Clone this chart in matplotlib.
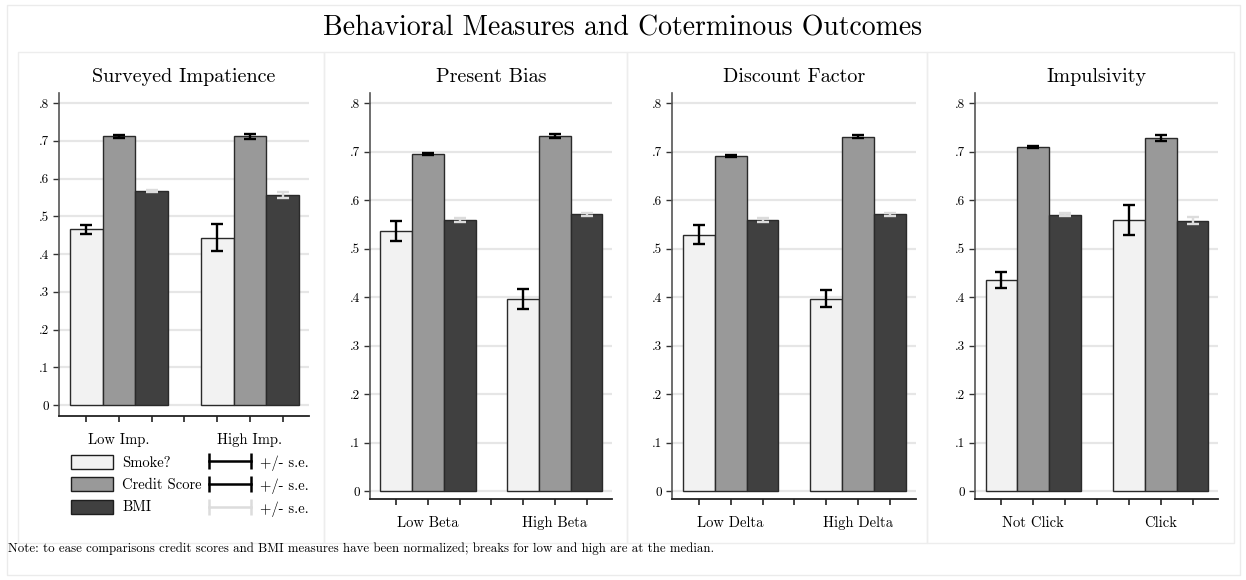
import matplotlib.pyplot as plt
from matplotlib.patches import Patch, Rectangle
from matplotlib.lines import Line2D
from matplotlib.legend_handler import HandlerLine2D

plt.rcParams['font.family'] = 'cmr10'
plt.rcParams['axes.unicode_minus'] = False

# Data: means and standard errors per panel
panel_titles = ['Surveyed Impatience', 'Present Bias', 'Discount Factor', 'Impulsivity']
group_labels = [['Low Imp.', 'High Imp.'], ['Low Beta', 'High Beta'],
                ['Low Delta', 'High Delta'], ['Not Click', 'Click']]
series_names = ['Smoke?', 'Credit Score', 'BMI']

smoke_mean = [[0.466, 0.443], [0.537, 0.396], [0.529, 0.397], [0.435, 0.559]]
smoke_se = [[0.012, 0.036], [0.020, 0.021], [0.020, 0.018], [0.0165, 0.031]]
credit_mean = [[0.712, 0.712], [0.695, 0.732], [0.692, 0.731], [0.710, 0.728]]
credit_se = [[0.003, 0.0075], [0.0025, 0.004], [0.002, 0.0037], [0.002, 0.006]]
bmi_mean = [[0.567, 0.557], [0.560, 0.571], [0.560, 0.571], [0.570, 0.558]]
bmi_se = [[0.0035, 0.0075], [0.004, 0.0035], [0.004, 0.0037], [0.0035, 0.0065]]

yticks = [0, .1, .2, .3, .4, .5, .6, .7, .8]
ytick_labels = ['0', '.1', '.2', '.3', '.4', '.5', '.6', '.7', '.8']

bar_colors = ['#f2f2f2', '#999999', '#404040']
err_colors = ['black', 'black', '#dcdcdc']

W, H = 1246, 580
fig = plt.figure(figsize=(W / 100, H / 100), dpi=100)


def px_box(l, r, t, b):
    return [l / W, 1 - b / H, (r - l) / W, (b - t) / H]


# outer frame and panel frames
fig.add_artist(Rectangle((7 / W, 1 - 575 / H), 1233 / W, 570 / H, transform=fig.transFigure,
                         facecolor='none', edgecolor='#ebebeb', lw=1))
panel_edges = [18, 324, 627, 927, 1234]
for i in range(4):
    fig.add_artist(Rectangle((panel_edges[i] / W, 1 - 543 / H), (panel_edges[i + 1] - panel_edges[i]) / W,
                             491 / H, transform=fig.transFigure, facecolor='none',
                             edgecolor='#ededed', lw=1))

axes_px = [(59, 309, 93, 416), (370, 612, 93, 499), (672, 916, 93, 499), (975, 1218, 93, 499)]
ylims = [(-0.029, 0.827), (-0.0157, 0.821), (-0.0157, 0.821), (-0.0157, 0.821)]

positions = [[1, 5], [2, 6], [3, 7]]
axes = []
for p in range(4):
    ax = fig.add_axes(px_box(*axes_px[p]))
    axes.append(ax)
    means = [smoke_mean[p], credit_mean[p], bmi_mean[p]]
    ses = [smoke_se[p], credit_se[p], bmi_se[p]]
    for s in range(3):
        ax.bar(positions[s], means[s], width=1.0, color=bar_colors[s],
               edgecolor='#2a2a2a', linewidth=1.0, zorder=3)
        ax.errorbar(positions[s], means[s], yerr=ses[s], fmt='none', ecolor=err_colors[s],
                    elinewidth=1.7, capsize=4.5, capthick=1.7, zorder=4)
    ax.set_xlim(0.17, 7.8)
    ax.set_ylim(*ylims[p])
    ax.set_yticks(yticks)
    ax.set_yticklabels(ytick_labels)
    ax.set_xticks(range(1, 8))
    ax.set_xticklabels(['', group_labels[p][0], '', '', '', group_labels[p][1], ''])
    ax.tick_params(axis='y', direction='out', length=4, width=1, color='#333333',
                   labelsize=9.5, pad=3)
    ax.tick_params(axis='x', direction='out', length=4.5, width=1.2, color='#222222',
                   labelsize=10.5, pad=8)
    ax.yaxis.grid(True, color='#e6e6e6', lw=1.6)
    ax.set_axisbelow(True)
    for side in ['top', 'right']:
        ax.spines[side].set_visible(False)
    ax.spines['left'].set_color('#555555')
    ax.spines['left'].set_linewidth(1.2)
    ax.spines['bottom'].set_color('#222222')
    ax.spines['bottom'].set_linewidth(1.3)
    ax.set_title(panel_titles[p], fontsize=14.5, pad=8)

# legend under the first panel
handles = [Patch(facecolor=c, edgecolor='#1e1e1e', lw=1) for c in bar_colors]
handles += [Line2D([0], [0], color=c, lw=1.8, marker='|', ms=11, mew=1.8) for c in err_colors]
labels = series_names + ['+/- s.e.'] * 3
axes[0].legend(handles, labels, ncol=2, loc='upper left',
               bbox_to_anchor=(71 / W, 1 - 455 / H), bbox_transform=fig.transFigure,
               frameon=False, borderpad=0, borderaxespad=0, handlelength=2.9,
               handleheight=1.1, handletextpad=0.6, columnspacing=0.5, labelspacing=0.5,
               fontsize=10.5, handler_map={Line2D: HandlerLine2D(marker_pad=0, numpoints=2)})

fig.text(0.5, 1 - 36 / H, 'Behavioral Measures and Coterminous Outcomes', ha='center',
         va='baseline', fontsize=20)
fig.text(8 / W, 1 - 549 / H, 'Note: to ease comparisons credit scores and BMI measures have been '
         'normalized; breaks for low and high are at the median.', ha='left', va='center',
         fontsize=9.3)

fig.savefig('out.png', dpi=100, facecolor='white')
